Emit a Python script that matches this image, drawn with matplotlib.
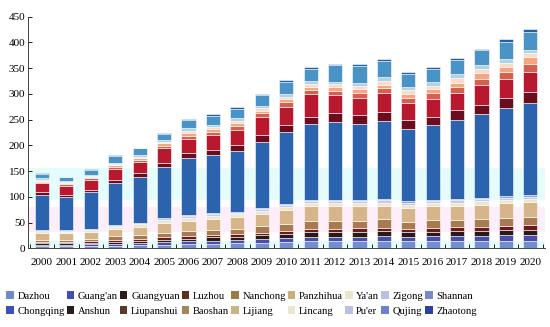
import matplotlib
matplotlib.use("Agg")
import matplotlib.pyplot as plt
from matplotlib.patches import Patch
import numpy as np

years = [str(y) for y in range(2000, 2021)]

series_names = ["Dazhou", "Guang'an", "Guangyuan", "Luzhou", "Nanchong", "Panzhihua",
                "Ya'an", "Zigong", "Shannan", "Chongqing", "Anshun", "Liupanshui",
                "Baoshan", "Lijiang", "Lincang", "Pu'er", "Qujing", "Zhaotong"]

dazhou    = [4, 4, 4.5, 5, 6, 7, 8, 9, 9.5, 10.5, 12, 14, 14, 14, 15, 14, 14.5, 15, 15, 15, 15]
guangan   = [3, 3, 3.5, 4, 4.5, 5, 5.5, 6, 6.5, 7, 7.5, 8, 8, 8.5, 8.5, 8, 8.5, 8.5, 9, 10, 11]
guangyuan = [3, 3, 3, 4, 4.5, 5, 5.5, 6, 6.5, 7.5, 8.5, 9.5, 9.5, 9.5, 10, 9.5, 9.5, 10, 10, 10, 10]
luzhou    = [3, 3, 3.5, 4, 4, 4.5, 5, 5, 5, 5.5, 6, 6.5, 6.5, 6.5, 6.5, 6.5, 6.5, 7, 7.5, 8.5, 9.5]
nanchong  = [4, 4, 4.5, 6, 7, 9, 9.5, 10, 10.5, 12, 13, 14.5, 14.5, 15, 16, 14, 15.5, 15, 15.5, 16, 16]
panzhihua = [13, 12.5, 13, 15, 16, 19, 20, 21, 22, 24, 26.5, 29, 29, 28.5, 26, 26.5, 27, 27, 28, 28, 28]
yaan      = [3, 3, 3.5, 4, 4.5, 5.5, 6, 6, 6, 6, 6.5, 6.5, 6.5, 6, 6.5, 6.5, 6.5, 6.5, 6.5, 6.5, 6.5]
zigong    = [1.5, 1.5, 1.5, 2, 2.5, 3, 3, 3, 3, 3.5, 4, 4, 4, 4, 4.5, 4, 4, 4, 4.5, 4.5, 4.5]
shannan   = [1, 1, 1, 1, 1, 1, 1.5, 2, 2, 2, 2, 2, 2, 2, 2, 2, 2, 2, 2, 2.5, 2.5]
chongqing = [67.5, 64, 71, 81, 88, 99, 111, 113, 119, 129, 141, 147, 152, 147, 153, 140, 145, 155, 163, 172, 180]
anshun    = [7, 5, 5, 7, 8, 7, 10, 10, 11, 13, 13, 15, 16, 18, 17, 18, 17, 19, 17, 19, 21]
liupanshui= [16, 18, 19, 22, 22, 29, 28, 29, 29, 35, 35, 44, 36, 34, 37, 34, 35, 33, 39, 38, 39]
baoshan   = [3, 2, 3, 3, 4, 5, 6, 6, 7, 7, 9, 8, 8, 9, 10, 10, 10, 11, 13, 13, 16]
lijiang   = [2, 2, 2, 3, 3, 5, 5, 5, 6, 5, 6, 6, 7, 7, 6, 7, 8, 9, 10, 9, 12]
lincang   = [2, 2, 2, 2, 3, 3, 4, 5, 5, 5, 5, 5, 6, 7, 7, 7, 7, 9, 9, 8, 8]
puer      = [3, 2, 3, 2, 3, 3, 5, 4, 5, 5, 4, 6, 5, 6, 8, 7, 7, 7, 7, 7, 7]
qujing    = [8, 8, 10, 14, 13, 13, 16, 18, 18, 20, 25, 23, 32, 33, 32, 25, 26, 28, 29, 34, 34]
zhaotong  = [1.5, 1, 2, 2, 1.5, 2, 2, 3, 3, 3, 3, 4, 3, 3, 3, 3, 3, 3, 3, 5, 6]

series = [dazhou, guangan, guangyuan, luzhou, nanchong, panzhihua, yaan, zigong, shannan,
          chongqing, anshun, liupanshui, baoshan, lijiang, lincang, puer, qujing, zhaotong]

bar_colors = ["#6f8fd0", "#4a4cb0", "#2a1a16", "#6a1a1e", "#a87a52", "#d6b58a",
              "#ece6cc", "#c8c8ec", "#90a8dc", "#2c63ae", "#6b0d1f", "#b8192e",
              "#d6604d", "#f4a582", "#fddbc7", "#b0d2e6", "#4a93c6", "#2160a8"]
legend_colors = ["#7088c8", "#3c50b0", "#2a1c18", "#5a3020", "#9a7a48", "#c8b078",
                 "#e8e6cc", "#b8c0e4", "#7888c8", "#3c50b0", "#2a1c18", "#5a3a28",
                 "#a08858", "#c8b480", "#ece6cc", "#b8c0e4", "#6a84cc", "#2c40a0"]

plt.rcParams['font.family'] = ['Liberation Serif', 'DejaVu Serif']

fig = plt.figure(figsize=(5.5, 3.27), dpi=100)
ax = fig.add_axes([0.051, 0.2407, 0.94, 0.708])

# faint background bands seen in the reference
ax.axhspan(93, 156, color="#e4fcfc", zorder=0, lw=0)
ax.axhspan(31, 80, color="#fdeefa", zorder=0, lw=0)
ax.axhspan(0, 15, color="#e6fbfb", zorder=0, lw=0)

x = np.arange(len(years))
bottom = np.zeros(len(years))
for vals, c, name in zip(series, bar_colors, series_names):
    v = np.array(vals, dtype=float)
    ax.bar(x, v, width=0.58, bottom=bottom, color=c, edgecolor="white",
           linewidth=0.4, label=name, zorder=2)
    bottom += v

ax.set_xlim(-0.57, 20.6)
ax.set_ylim(0, 450)
ax.set_yticks(np.arange(0, 451, 50))
ax.set_xticks(x)
ax.set_xticklabels(years)
ax.set_xticks(np.arange(-0.5, 20.6, 1), minor=True)
ax.tick_params(axis='x', which='major', length=0, labelsize=8, pad=7)
ax.tick_params(axis='x', which='minor', length=3, direction='in', width=0.6)
ax.tick_params(axis='y', length=3, direction='in', labelsize=8, width=0.6, pad=2)
for s in ["top", "right"]:
    ax.spines[s].set_visible(False)
for s in ["left", "bottom"]:
    ax.spines[s].set_color("#444444")
    ax.spines[s].set_linewidth(0.7)

handles = [Patch(facecolor=c, edgecolor='none') for c in legend_colors]
order = []
for i in range(9):
    order += [i, i + 9]
leg = fig.legend([handles[i] for i in order], [series_names[i] for i in order],
                 ncol=9, loc="lower left", bbox_to_anchor=(0.0, 0.015),
                 frameon=False, fontsize=7.6, handlelength=0.7, handleheight=0.7,
                 handletextpad=0.35, columnspacing=0.2, labelspacing=0.55,
                 borderaxespad=0.2)

fig.savefig("out.png", dpi=100)
